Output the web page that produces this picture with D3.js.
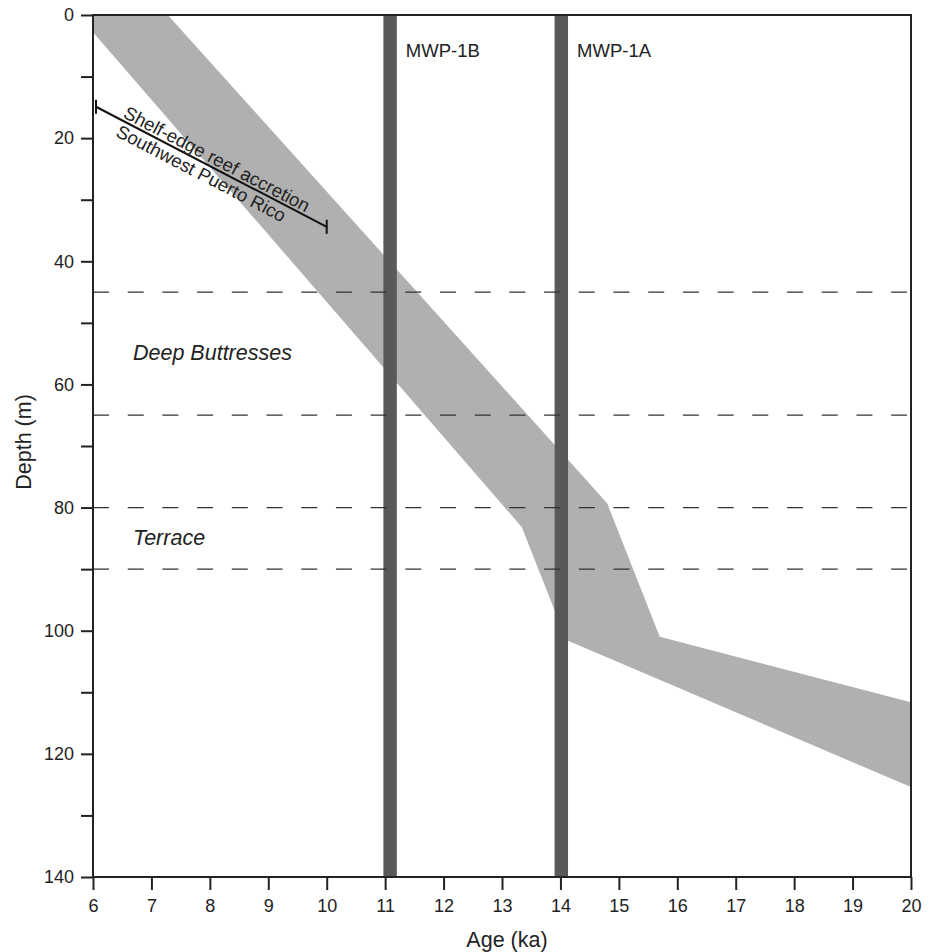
<!DOCTYPE html>
<html>
<head>
<meta charset="utf-8">
<script src="https://cdn.jsdelivr.net/npm/d3@7"></script>
<style>
  body { margin: 0; background: #fff; }
  svg text { font-family: "Liberation Sans", Arial, Helvetica, sans-serif; fill: #222; }
</style>
</head>
<body>
<svg id="chart" width="930" height="952"></svg>
<script>
// sea-level band: shallow (upper) edge and deep (lower) edge
const upperAge = [7.28, 14.8, 15.7, 20]
const upperDepth = [0, 79.3, 101.0, 111.6]
const lowerAge = [6, 13.34, 14.1, 20]
const lowerDepth = [2.8, 83.2, 101.5, 125.4]

// meltwater pulses (age range of each bar)
const pulseNames = ['MWP-1B', 'MWP-1A']
const pulseStart = [10.97, 13.9]
const pulseEnd = [11.2, 14.13]

// depth zones (dashed lines) and labels
const zoneDepths = [45, 65, 80, 90]
const zoneNames = ['Deep Buttresses', 'Terrace']
const zoneLabelDepth = [56, 86.1]

// reef accretion segment, Southwest Puerto Rico
const reefAge = [6, 10]
const reefDepth = [14.9, 34.4]

const xTicks = d3.range(6, 21, 1)
const yTicks = d3.range(0, 141, 10)

const margin = { top: 15, left: 93 }
const width = 818
const height = 862

const svg = d3.select('#chart')
const g = svg.append('g')
  .attr('transform', `translate(${margin.left},${margin.top})`)

const x = d3.scaleLinear().domain([6, 20]).range([0, width])
const y = d3.scaleLinear().domain([0, 140]).range([0, height])

// band polygon
let bandPts = [[6, 0]]
upperAge.forEach((a, i) => bandPts.push([a, upperDepth[i]]))
for (let i = lowerAge.length - 1; i >= 0; i--) bandPts.push([lowerAge[i], lowerDepth[i]])

g.append('path')
  .attr('d', d3.line().x(d => x(d[0])).y(d => y(d[1]))(bandPts) + 'Z')
  .attr('fill', '#b0b0b0')

// pulse bars
g.selectAll('.pulse')
  .data(pulseNames)
  .enter().append('rect')
  .attr('class', 'pulse')
  .attr('x', (d, i) => x(pulseStart[i]))
  .attr('width', (d, i) => x(pulseEnd[i]) - x(pulseStart[i]))
  .attr('y', 0)
  .attr('height', height)
  .attr('fill', '#595959')

g.selectAll('.pulse-label')
  .data(pulseNames)
  .enter().append('text')
  .attr('x', (d, i) => x(pulseEnd[i]) + 9)
  .attr('y', 42)
  .style('font-size', '18.5px')
  .text(d => d)

// dashed depth lines
g.selectAll('.zone')
  .data(zoneDepths)
  .enter().append('line')
  .attr('x1', 0)
  .attr('x2', width - 4)
  .attr('y1', d => y(d))
  .attr('y2', d => y(d))
  .attr('stroke', '#333')
  .attr('stroke-width', 1.3)
  .attr('stroke-dasharray', '16,18.7')

g.selectAll('.zone-label')
  .data(zoneNames)
  .enter().append('text')
  .attr('x', 40)
  .attr('y', (d, i) => y(zoneLabelDepth[i]))
  .style('font-size', '21.5px')
  .style('font-style', 'italic')
  .text(d => d)

// reef segment with end caps
const rx0 = x(reefAge[0]) + 3, ry0 = y(reefDepth[0])
const rx1 = x(reefAge[1]), ry1 = y(reefDepth[1])
g.append('line')
  .attr('x1', rx0).attr('y1', ry0).attr('x2', rx1).attr('y2', ry1)
  .attr('stroke', '#111').attr('stroke-width', 2)
;[[rx0, ry0], [rx1, ry1]].forEach(p => {
  g.append('line')
    .attr('x1', p[0]).attr('x2', p[0])
    .attr('y1', p[1] - 7).attr('y2', p[1] + 7)
    .attr('stroke', '#111').attr('stroke-width', 2)
})

const angle = Math.atan2(ry1 - ry0, rx1 - rx0) * 180 / Math.PI
const reefText = g.append('g')
  .attr('transform', `translate(${rx0},${ry0}) rotate(${angle})`)
reefText.append('text')
  .attr('x', 28).attr('y', -3)
  .style('font-size', '18.5px')
  .text('Shelf-edge reef accretion')
reefText.append('text')
  .attr('x', 30).attr('y', 17)
  .style('font-size', '18.5px')
  .text('Southwest Puerto Rico')

// frame
g.append('rect')
  .attr('width', width).attr('height', height)
  .attr('fill', 'none')
  .attr('stroke', '#222').attr('stroke-width', 2)

// axes
const yAxis = g.append('g')
  .call(d3.axisLeft(y).tickValues(yTicks).tickSize(12).tickPadding(7)
    .tickFormat(d => d % 20 === 0 ? d : ''))
const xAxis = g.append('g')
  .attr('transform', `translate(0,${height})`)
  .call(d3.axisBottom(x).tickValues(xTicks).tickSize(13).tickPadding(9))

;[xAxis, yAxis].forEach(ax => {
  ax.attr('font-size', null).attr('font-family', null)
  ax.select('.domain').remove()
  ax.selectAll('line').attr('stroke', '#222').attr('stroke-width', 2)
  ax.selectAll('text').style('font-size', '18px').attr('fill', '#222')
})

g.append('text')
  .attr('x', 414)
  .attr('y', height + 70)
  .attr('text-anchor', 'middle')
  .style('font-size', '21.5px')
  .text('Age (ka)')

g.append('text')
  .attr('transform', `translate(-62,427) rotate(-90)`)
  .attr('text-anchor', 'middle')
  .style('font-size', '21.5px')
  .text('Depth (m)')
</script>
</body>
</html>
